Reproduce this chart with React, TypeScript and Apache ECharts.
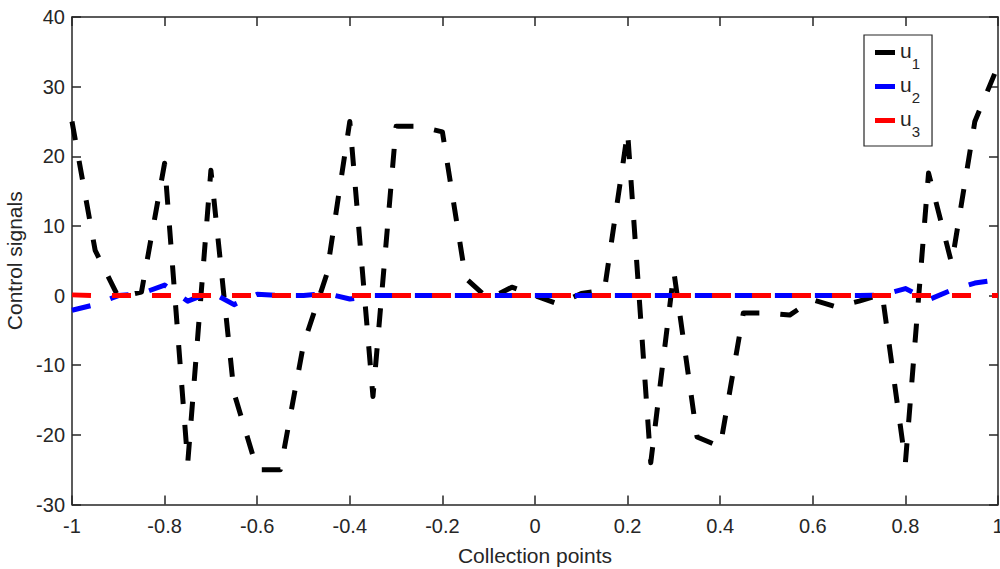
import React, { useEffect, useRef } from "react";
import * as echarts from "echarts";

const xs = [
  -1, -0.95, -0.9, -0.85, -0.8, -0.75, -0.7, -0.65, -0.6, -0.55, -0.5,
  -0.45, -0.4, -0.35, -0.3, -0.25, -0.2, -0.15, -0.1, -0.05, 0,
  0.05, 0.1, 0.15, 0.2, 0.25, 0.3, 0.35, 0.4, 0.45, 0.5,
  0.55, 0.6, 0.65, 0.7, 0.75, 0.8, 0.85, 0.9, 0.95, 1,
];

const u1 = [
  25, 6.5, -0.2, 0.5, 19, -24, 18, -14, -25, -25, -7,
  3, 25, -14.5, 24.3, 24.3, 23.5, 2.5, -0.5, 1.2, 0,
  -1.2, 0.3, 0.8, 23.5, -24, 3.4, -20.3, -21.7, -2.5, -2.5,
  -2.8, -0.6, -1.6, -0.8, 0.2, -24, 17.6, 4.6, 25, 33,
];

const u2 = [
  -2.1, -1.3, 0, 0.3, 1.5, -0.8, 0.5, -1.3, 0.2, 0, 0,
  0.3, -0.5, 0, 0, 0, 0, 0, 0, 0, 0,
  0, 0, 0, 0, 0, 0, 0, 0, 0, 0,
  0, 0, 0, 0, 0.1, 1.0, -0.6, 0.8, 1.8, 2.3,
];

const u3 = [
  0.1, 0, 0, 0, 0, 0, 0, 0, 0, 0, 0,
  0, 0, 0, 0, 0, 0, 0, 0, 0, 0,
  0, 0, 0, 0, 0, 0, 0, 0, 0, 0,
  0, 0, 0, 0, 0, 0, 0, 0, 0, 0,
];

const seriesNames = ["u1", "u2", "u3"];
const seriesColors = ["#000000", "#0000ff", "#ff0000"];
const seriesValues = [u1, u2, u3];

const FONT = "'Liberation Sans', Arial, Helvetica, sans-serif";
const AX = "#262626";

export default function App() {
  const ref = useRef<HTMLDivElement>(null);

  useEffect(() => {
    if (!ref.current) return;
    const chart = echarts.init(ref.current, undefined, { renderer: "svg" });

    const axisCommon = {
      axisLine: { show: true, onZero: false, lineStyle: { color: AX, width: 1.5 } },
      axisTick: { show: true, inside: true, length: 9, lineStyle: { color: AX, width: 1.5 } },
      splitLine: { show: false },
    };

    const fmtX = (v: number) => String(Math.round(v * 10) / 10);

    chart.setOption({
      animation: false,
      backgroundColor: "#ffffff",
      textStyle: { fontFamily: FONT },
      grid: {
        left: 72,
        right: 2,
        top: 17,
        bottom: 64.5,
        containLabel: false,
        outerBoundsMode: "none",
      },
      xAxis: [
        {
          type: "value",
          min: -1,
          max: 1,
          interval: 0.2,
          position: "bottom",
          ...axisCommon,
          axisLabel: { fontSize: 20, color: AX, margin: 11, fontFamily: FONT, formatter: fmtX },
          name: "Collection points",
          nameLocation: "middle",
          nameGap: 40,
          nameTextStyle: { fontSize: 21, color: AX, fontFamily: FONT },
        },
        {
          type: "value",
          min: -1,
          max: 1,
          interval: 0.2,
          position: "top",
          ...axisCommon,
          axisLabel: { show: false },
        },
      ],
      yAxis: [
        {
          type: "value",
          min: -30,
          max: 40,
          interval: 10,
          position: "left",
          ...axisCommon,
          axisLabel: { fontSize: 20, color: AX, margin: 7, fontFamily: FONT },
          name: "Control signals",
          nameLocation: "middle",
          nameGap: 40,
          nameTextStyle: { fontSize: 21, color: AX, fontFamily: FONT },
        },
        {
          type: "value",
          min: -30,
          max: 40,
          interval: 10,
          position: "right",
          ...axisCommon,
          axisLabel: { show: false },
        },
      ],
      legend: {
        orient: "vertical",
        left: 864,
        top: 35,
        backgroundColor: "#ffffff",
        borderColor: AX,
        borderWidth: 1.2,
        borderRadius: 0,
        padding: [5, 12, 7, 11],
        itemWidth: 20,
        itemHeight: 5,
        itemGap: 3,
        icon: "rect",
        data: seriesNames,
        formatter: (name: string) => `{u|u}{s|${name.slice(1)}}`,
        textStyle: {
          fontFamily: FONT,
          color: AX,
          rich: {
            u: { fontSize: 21, fontFamily: FONT, color: AX, padding: [0, 0, 4, 0] },
            s: { fontSize: 15, fontFamily: FONT, color: AX, padding: [22, 0, 0, 0] },
          },
        },
      },
      series: seriesNames.map((name, i) => ({
        name,
        type: "line",
        xAxisIndex: 0,
        yAxisIndex: 0,
        data: xs.map((x, j) => [x, seriesValues[i][j]]),
        symbol: "none",
        color: seriesColors[i],
        itemStyle: { color: seriesColors[i] },
        lineStyle: { color: seriesColors[i], width: 5, type: [19, 21], cap: "butt", join: "round" },
        z: 2 + i,
      })),
    });

    return () => chart.dispose();
  }, []);

  return (
    <div
      ref={ref}
      style={{ position: "absolute", left: 0, top: 0, width: 1000, height: 569, background: "#fff" }}
    />
  );
}
